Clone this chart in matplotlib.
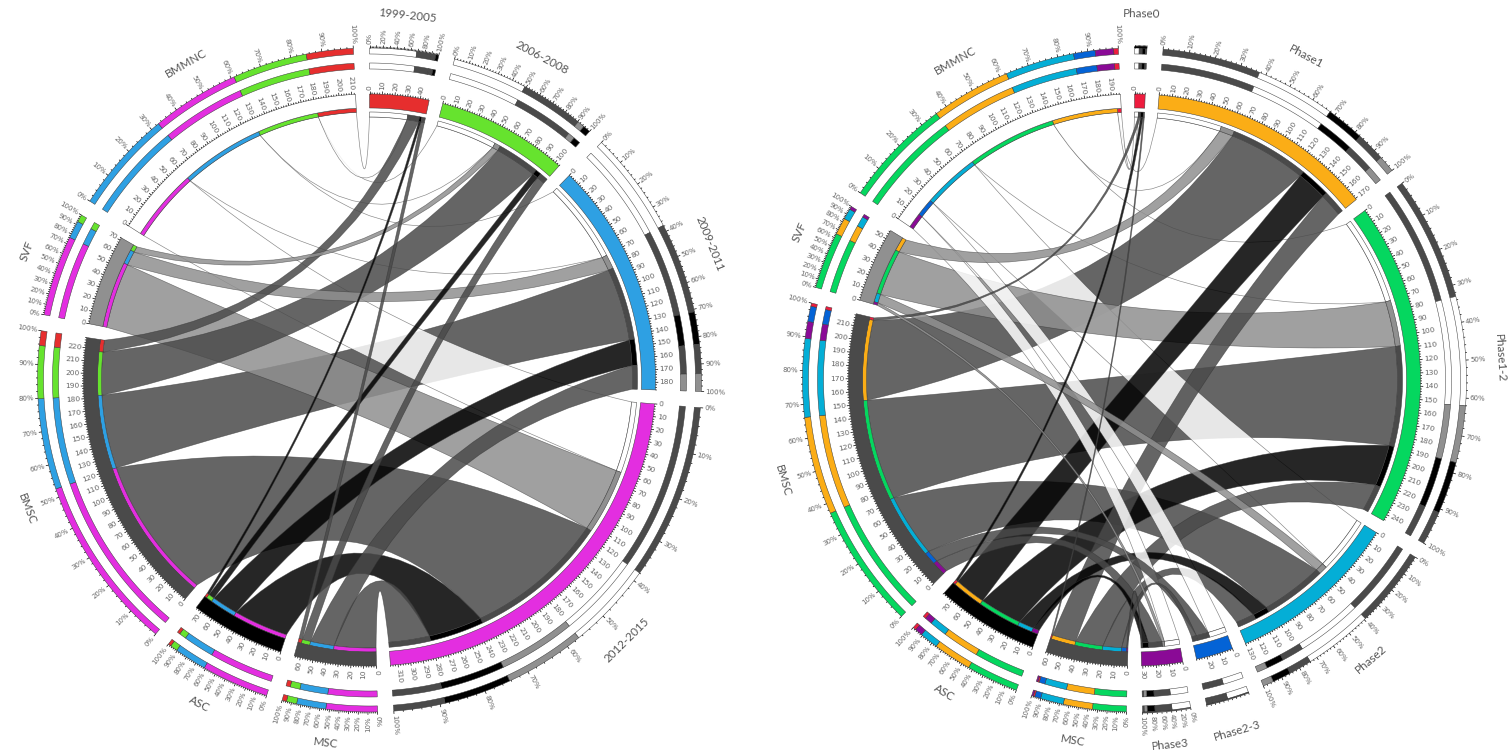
import numpy as np
import matplotlib
matplotlib.use('Agg')
import matplotlib.pyplot as plt
from matplotlib.patches import PathPatch
from matplotlib.path import Path
from matplotlib.colors import to_rgba

# %% cell types, listed clockwise as on the circle
cells = ['MSC', 'ASC', 'BMSC', 'SVF', 'BMMNC']
cell_colors = ['#4a4a4a', '#000000', '#4a4a4a', '#909090', '#ffffff']

# %% left chart: rows in order BMMNC, SVF, BMSC, ASC, MSC
left_years = ['1999-2005', '2006-2008', '2009-2011', '2012-2015']
left_colors = ['#e62e2e', '#66e32e', '#2ea0e3', '#e32ee0']
left_1999 = [32, 0, 10, 2, 3]
left_2006 = [51, 5, 36, 5, 7]
left_2009 = [70, 12, 62, 22, 20]
left_2012 = [60, 55, 120, 46, 35]
left_rows = [left_1999, left_2006, left_2009, left_2012]
left_pct_step = [20, 10, 10, 10]

# %% right chart: same row order
right_phases = ['Phase0', 'Phase1', 'Phase1-2', 'Phase2', 'Phase2-3', 'Phase3']
right_colors = ['#ee1c3e', '#fbad16', '#05d75f', '#04aed6', '#0463d6', '#8a0a96']
right_p0 = [3, 0, 2, 2, 1]
right_p1 = [52, 11, 64, 25, 19]
right_p12 = [71, 37, 81, 34, 22]
right_p2 = [45, 7, 51, 12, 15]
right_p23 = [14, 0, 10, 0, 4]
right_p3 = [12, 2, 11, 5, 1]
right_rows = [right_p0, right_p1, right_p12, right_p2, right_p23, right_p3]
right_pct_step = [0, 10, 10, 10, 0, 20]

GAP = 2.8
R_RING1 = (326, 332)
R_RING2 = (311, 317)
R_BAND = (272, 286)
R_STACK_YEAR = (263, 268)
R_STACK_CELL = (268, 272)
R_NAME = 366
TICK_GREY = '#666666'
EDGE = '#3a3a3a'


def pt(cx, cy, r, ang):
    a = np.radians(ang)
    return cx + r * np.sin(a), cy - r * np.cos(a)


def ring_patch(ax, cx, cy, r0, r1, a0, a1, color, z=500, lw=0.35):
    n = max(int(abs(a1 - a0) * 2), 2)
    ang = np.linspace(a0, a1, n)
    xo, yo = pt(cx, cy, r1, ang)
    xi, yi = pt(cx, cy, r0, ang[::-1])
    xy = np.column_stack([np.r_[xo, xi], np.r_[yo, yi]])
    ax.fill(xy[:, 0], xy[:, 1], facecolor=color, edgecolor=EDGE, linewidth=lw, zorder=z)


def ticks(ax, cx, cy, r, a0, a1, total, major, minor, fmt, label_step, size):
    for v in np.arange(0, total + 1e-6, minor):
        ang = a0 + (a1 - a0) * v / total
        is_major = abs(v / major - round(v / major)) < 1e-6
        ln = 2.8 if is_major else 1.5
        x0, y0 = pt(cx, cy, r, ang)
        x1, y1 = pt(cx, cy, r + ln, ang)
        ax.plot([x0, x1], [y0, y1], color='black', lw=0.5, zorder=600, solid_capstyle='butt')
        if label_step and abs(v / label_step - round(v / label_step)) < 1e-6:
            tx, ty = pt(cx, cy, r + 4, ang)
            if ang < 180:
                rot, ha = 90 - ang, 'left'
            else:
                rot, ha = 270 - ang, 'right'
            ax.text(tx, ty, fmt % v, rotation=rot, ha=ha, va='center',
                    rotation_mode='anchor', fontsize=size, color=TICK_GREY, zorder=700)


def ribbon(ax, cx, cy, ra, a0, a1, rb, b0, b1, color, z):
    # %% two arcs joined by quadratic curves, control point pulled toward the centre
    def arc(r, s, e):
        n = max(int(abs(e - s) * 2), 2)
        return [pt(cx, cy, r, t) for t in np.linspace(s, e, n)]

    def ctrl(s, e):
        sep = abs(s - e)
        mid = (s + e) / 2
        if sep > 180:
            sep = 360 - sep
            mid += 180
        return pt(cx, cy, (ra + rb) / 2 * 0.6 * (1 - sep / 180), mid)

    verts, codes = [], []
    first = arc(ra, a0, a1)
    verts += first
    codes += [Path.MOVETO] + [Path.LINETO] * (len(first) - 1)
    verts += [ctrl(a1, b0), pt(cx, cy, rb, b0)]
    codes += [Path.CURVE3, Path.CURVE3]
    second = arc(rb, b0, b1)[1:]
    verts += second
    codes += [Path.LINETO] * len(second)
    verts += [ctrl(b1, a0), pt(cx, cy, ra, a0)]
    codes += [Path.CURVE3, Path.CURVE3]
    p = PathPatch(Path(verts, codes), facecolor=to_rgba(color, 0.85),
                  edgecolor=(0.2, 0.2, 0.2, 0.6), linewidth=0.45, zorder=z)
    ax.add_patch(p)


def sector_name(ax, cx, cy, name, ang):
    x, y = pt(cx, cy, R_NAME, ang)
    rot = 180 - ang if 90 < ang < 270 else -ang
    ax.text(x, y, name, rotation=rot, ha='center', va='center', rotation_mode='anchor',
            fontsize=8.4, color='#555555', family='Lato', zorder=700)


def rings(ax, cx, cy, a0, a1, parts, colors, pct_step):
    # %% both rings are the sector's shares sorted from large to small
    order = sorted(range(len(parts)), key=lambda i: -parts[i])
    total = sum(parts)
    pos = 0
    for i in order:
        if parts[i] == 0:
            continue
        s = a0 + (a1 - a0) * pos / total
        e = a0 + (a1 - a0) * (pos + parts[i]) / total
        ring_patch(ax, cx, cy, *R_RING1, s, e, colors[i])
        ring_patch(ax, cx, cy, *R_RING2, s, e, colors[i])
        pos += parts[i]
    ticks(ax, cx, cy, R_RING1[1], a0, a1, 100, 10, 2, '%d%%', pct_step, 5.0)


def chord(ax, cx, cy, names, colors, rows, pct_step):
    cols = [list(c) for c in zip(*rows)]   # BMMNC, SVF, BMSC, ASC, MSC
    cell_sizes = [sum(c) for c in cols][::-1]  # MSC ... BMMNC
    sizes = [sum(r) for r in rows] + cell_sizes
    k = (360 - GAP * len(sizes)) / sum(sizes)
    starts = []
    a = 0
    for s in sizes:
        starts.append(a)
        a += s * k + GAP
    ny = len(names)

    # %% cell stacks run clockwise in reversed year order
    cell_pos = {}
    for c, cname in enumerate(cells):
        col = cols[len(cells) - 1 - c]
        p = starts[ny + c]
        for y in range(ny - 1, -1, -1):
            cell_pos[(y, c)] = (p, p + col[y] * k)
            p += col[y] * k

    # %% stacks, and the ribbons collected so the largest can go at the back
    links = []
    for y in range(ny):
        p = starts[y]
        for j in range(len(cells)):
            v = rows[y][j]
            c = len(cells) - 1 - j
            if v == 0:
                continue
            c0, c1 = cell_pos[(y, c)]
            links.append((v, p, p + v * k, c0, c1, cell_colors[c]))
            ring_patch(ax, cx, cy, *R_STACK_YEAR, p, p + v * k, cell_colors[c], z=400)
            ring_patch(ax, cx, cy, *R_STACK_CELL, c0, c1, colors[y], z=400)
            p += v * k
    links.sort(key=lambda l: -l[0])
    for i, (v, a0, a1, c0, c1, col) in enumerate(links):
        ribbon(ax, cx, cy, R_STACK_YEAR[0], a0, a1, R_STACK_CELL[0], c0, c1, col, 10 + i)

    # %% year sectors
    for y, name in enumerate(names):
        a0, a1 = starts[y], starts[y] + sizes[y] * k
        ring_patch(ax, cx, cy, *R_BAND, a0, a1, colors[y])
        ticks(ax, cx, cy, R_BAND[1], a0, a1, sizes[y], 10, 2, '%d', 10, 5.4)
        rings(ax, cx, cy, a0, a1, rows[y], [cell_colors[len(cells) - 1 - j] for j in range(len(cells))], pct_step[y])
        sector_name(ax, cx, cy, name, (a0 + a1) / 2)

    # %% cell sectors
    for c, name in enumerate(cells):
        a0, a1 = starts[ny + c], starts[ny + c] + sizes[ny + c] * k
        ring_patch(ax, cx, cy, *R_BAND, a0, a1, cell_colors[c])
        ticks(ax, cx, cy, R_BAND[1], a0, a1, sizes[ny + c], 10, 2, '%d', 10, 5.4)
        rings(ax, cx, cy, a0, a1, cols[len(cells) - 1 - c], colors, 10)
        sector_name(ax, cx, cy, name, (a0 + a1) / 2)


fig = plt.figure(figsize=(15.12, 7.54), dpi=100)
ax = fig.add_axes([0, 0, 1, 1])
ax.set_xlim(0, 1512)
ax.set_ylim(754, 0)
ax.axis('off')
chord(ax, 369.5, 380, left_years, left_colors, left_rows, left_pct_step)
chord(ax, 1134.5, 380, right_phases, right_colors, right_rows, right_pct_step)
fig.savefig('out.png', dpi=100, facecolor='white')
